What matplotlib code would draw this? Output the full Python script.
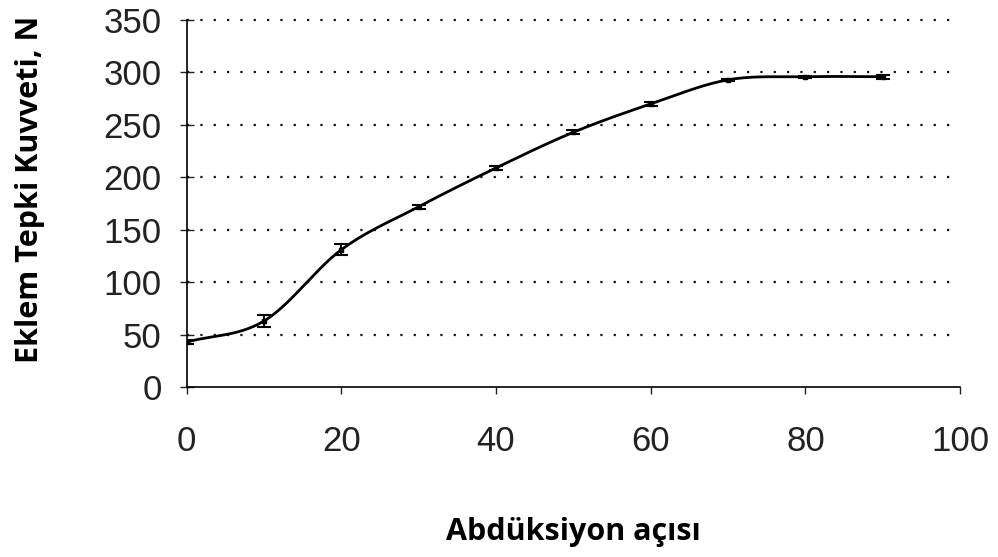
import numpy as np
import matplotlib.pyplot as plt

# abduction angle (deg) vs joint reaction force (N)
angle = [0, 10, 20, 30, 40, 50, 60, 70, 80, 90]
force = [43, 63, 131, 172, 209, 243, 270, 293, 296, 296]
err = [2, 6, 5, 2, 2, 2, 2, 1, 1, 2]


def smooth(x, y, n=30):
    # catmull-rom through the points, just for the drawn curve
    x = np.asarray(x, float)
    y = np.asarray(y, float)
    px = np.concatenate([[2 * x[0] - x[1]], x, [2 * x[-1] - x[-2]]])
    py = np.concatenate([[2 * y[0] - y[1]], y, [2 * y[-1] - y[-2]]])
    xs, ys = [], []
    t = np.linspace(0, 1, n, endpoint=False)
    for i in range(1, len(px) - 2):
        for p, out in ((px, xs), (py, ys)):
            p0, p1, p2, p3 = p[i - 1], p[i], p[i + 1], p[i + 2]
            out.extend(0.5 * (2 * p1 + (-p0 + p2) * t
                              + (2 * p0 - 5 * p1 + 4 * p2 - p3) * t ** 2
                              + (-p0 + 3 * p1 - 3 * p2 + p3) * t ** 3))
    xs.append(x[-1])
    ys.append(y[-1])
    return xs, ys


fig = plt.figure(figsize=(9.98, 5.57), dpi=100)
ax = fig.add_axes([0.187, 0.305, 0.775, 0.659])

sx, sy = smooth(angle, force)
ax.plot(sx, sy, color='black', lw=2, zorder=3)
ax.errorbar(angle, force, yerr=err, fmt='none', ecolor='black',
            elinewidth=1.5, capsize=5, capthick=1.5, zorder=4)
ax.plot(angle, force, 's', color='black', ms=3, zorder=4)

ax.set_xlim(0, 100)
ax.set_ylim(0, 350)
ax.set_xticks(range(0, 101, 20))
ax.set_yticks(range(0, 351, 50))
for v in range(50, 351, 50):
    ax.plot([0, 99.4], [v, v], color='#111111', lw=1.6, ls=(0, (1, 5)),
            zorder=1, clip_on=False)

for s in ('top', 'right'):
    ax.spines[s].set_visible(False)
ax.spines['left'].set_linewidth(1.2)
ax.spines['bottom'].set_linewidth(1.2)
ax.tick_params(axis='y', direction='inout', length=10, width=1,
               labelsize=25, pad=13, colors='#222222')
ax.tick_params(axis='x', direction='out', length=5, width=1,
               labelsize=25, pad=22, colors='#222222')
for lab in ax.get_xticklabels() + ax.get_yticklabels():
    lab.set_family('Liberation Sans')

ax.set_xlabel('Abdüksiyon açısı', fontsize=22, fontweight='bold',
              family='Open Sans')
ax.set_ylabel('Eklem Tepki Kuvveti, N', fontsize=22, fontweight='bold',
              family='Open Sans')
ax.xaxis.set_label_coords(0.5, -0.355)
ax.yaxis.set_label_coords(-0.183, 0.54)

plt.savefig('out.png', dpi=100)
